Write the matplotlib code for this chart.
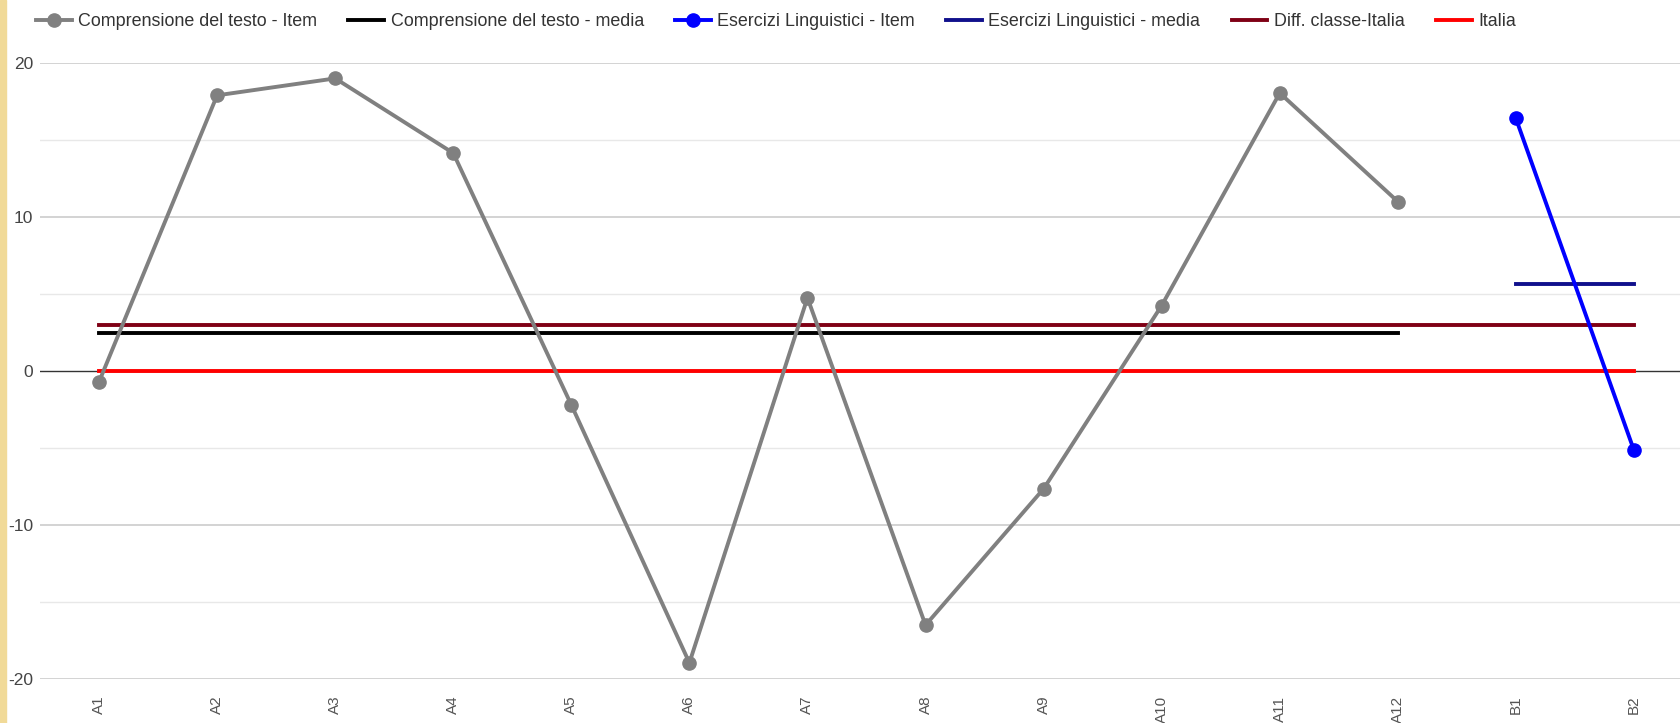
import numpy as np
import matplotlib
matplotlib.use("Agg")
import matplotlib.pyplot as plt
from matplotlib.lines import Line2D
from matplotlib.patches import Rectangle

plt.rcParams["font.family"] = ["Liberation Sans", "DejaVu Sans"]

CATEGORIES = ["A1", "A2", "A3", "A4", "A5", "A6", "A7", "A8", "A9", "A10",
              "A11", "A12", "B1", "B2"]
COMP_ITEM = [-0.7, 17.9, 19.0, 14.15, -2.2, -18.95, 4.75, -16.5, -7.65, 4.25,
             18.05, 11.0, None, None]
COMP_MEAN = [2.5] * 12 + [None, None]
ESER_ITEM = [None] * 12 + [16.4, -5.15]
ESER_MEAN = [None] * 12 + [5.65, 5.65]
DIFF = [3.0] * 14
ITALIA = [0.0] * 14

LABELS = ["Comprensione del testo - Item", "Comprensione del testo - media",
          "Esercizi Linguistici - Item", "Esercizi Linguistici - media",
          "Diff. classe-Italia", "Italia"]


def arr(vals):
    return np.array([np.nan if v is None else v for v in vals], dtype=float)


W, H = 1681, 723
fig = plt.figure(figsize=(W / 100, H / 100), dpi=100)
fig.patch.set_facecolor("white")
ax = fig.add_axes([40 / W, 1 - 679 / H, 1653 / W, 616 / H])

x = np.arange(len(CATEGORIES))

ax.set_ylim(-20, 20)
ax.set_xlim(-0.5, len(CATEGORIES) - 0.5)
for v in [20, 10, -10, -20]:
    ax.axhline(v, color="#cccccc", lw=1.2, zorder=0)
for v in [15, 5, -5, -15]:
    ax.axhline(v, color="#e8e8e8", lw=1.0, zorder=0)
ax.axhline(0, color="#333333", lw=1.0, zorder=1)

LW = 2.8
ax.plot(x, arr(ITALIA), color="#ff0000", lw=LW, zorder=2)
ax.plot(x, arr(DIFF), color="#7f0015", lw=LW, zorder=2)
ax.plot(x, arr(COMP_MEAN), color="#000000", lw=LW, zorder=2)
ax.plot(x, arr(ESER_MEAN), color="#10108c", lw=LW, zorder=2)
ax.plot(x, arr(COMP_ITEM), color="#808080", lw=LW, marker="o", ms=9.5, zorder=3)
ax.plot(x, arr(ESER_ITEM), color="#0000ff", lw=LW, marker="o", ms=9.5, zorder=3)

for s in ax.spines.values():
    s.set_visible(False)
ax.set_yticks([20, 10, 0, -10, -20])
ax.set_yticklabels(["20", "10", "0", "-10", "-20"])
ax.tick_params(axis="y", length=0, pad=5, labelsize=12.5, labelcolor="#444444")
ax.set_xticks(x)
ax.set_xticklabels(CATEGORIES, rotation=90, va="top")
ax.tick_params(axis="x", length=0, pad=12, labelsize=11, labelcolor="#555555")

handles = [
    Line2D([], [], color="#808080", lw=LW, marker="o", ms=9.5),
    Line2D([], [], color="#000000", lw=LW),
    Line2D([], [], color="#0000ff", lw=LW, marker="o", ms=9.5),
    Line2D([], [], color="#10108c", lw=LW),
    Line2D([], [], color="#7f0015", lw=LW),
    Line2D([], [], color="#ff0000", lw=LW),
]
fig.legend(handles, LABELS, loc="center left", bbox_to_anchor=(36 / W, 1 - 22 / H),
           ncol=6, frameon=False, fontsize=12.9, handlelength=2.0,
           handletextpad=0.35, columnspacing=1.75, borderaxespad=0, borderpad=0,
           labelcolor="#333333")

# yellowish page border on the left edge
fig.patches.append(Rectangle((0, 0), 6 / W, 1, transform=fig.transFigure,
                             color="#f1da98", zorder=10))

fig.savefig("out.png", dpi=100, facecolor="white")
